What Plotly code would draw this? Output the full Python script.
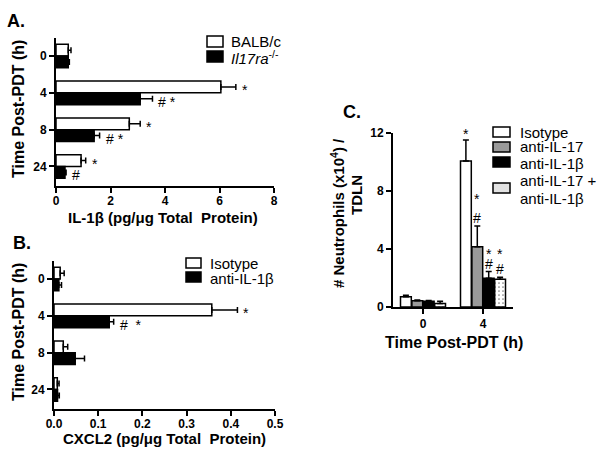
import plotly.graph_objects as go

# ---------------- data ----------------
A_times = ["0", "4", "8", "24"]
A_balbc = [0.45, 6.05, 2.69, 0.92]
A_balbc_err = [0.10, 0.55, 0.40, 0.17]
A_ko = [0.45, 3.09, 1.40, 0.33]
A_ko_err = [0.04, 0.45, 0.20, 0.04]
A_balbc_sig = ["", "*", "*", "*"]
A_ko_sig = ["", "# *", "# *", "#"]

B_times = ["0", "4", "8", "24"]
B_iso = [0.014, 0.357, 0.021, 0.0075]
B_iso_err = [0.009, 0.058, 0.010, 0.004]
B_anti = [0.011, 0.125, 0.048, 0.008]
B_anti_err = [0.006, 0.010, 0.021, 0.004]
B_iso_sig = ["", "*", "", ""]
B_anti_sig = ["", "#  *", "", ""]

C_times = ["0", "4"]
C_iso = [0.71, 10.07]
C_iso_err = [0.10, 1.45]
C_a17 = [0.43, 4.16]
C_a17_err = [0.05, 1.42]
C_a1b = [0.39, 1.98]
C_a1b_err = [0.06, 0.46]
C_both = [0.25, 1.91]
C_both_err = [0.14, 0.14]

A_names = ["BALB/c", "<i>Il17ra</i><sup>-/-</sup>"]
B_names = ["Isotype", "anti-IL-1β"]
C_names = ["Isotype", "anti-IL-17", "anti-IL-1β", "anti-IL-17 +", "anti-IL-1β"]

FONT = "Liberation Sans, Arial, sans-serif"
BLK = "black"
GRAY = "#9a9a9a"

fig = go.Figure()

def hbar(x, err, cats, fill, name, xa, ya, offset, width):
    fig.add_trace(go.Bar(
        x=x, y=cats, orientation="h", name=name, showlegend=False,
        marker=dict(color=fill, line=dict(color=BLK, width=1.5)),
        error_x=dict(type="data", symmetric=False, array=err,
                     arrayminus=[0] * len(err), color=BLK, thickness=1.5, width=3),
        offset=offset, width=width, xaxis=xa, yaxis=ya,
    ))

bw = 0.32
hbar(A_balbc, A_balbc_err, A_times, "white", A_names[0], "x", "y", -bw, bw)
hbar(A_ko, A_ko_err, A_times, BLK, A_names[1], "x", "y", 0, bw)
hbar(B_iso, B_iso_err, B_times, "white", B_names[0], "x2", "y2", -bw, bw)
hbar(B_anti, B_anti_err, B_times, BLK, B_names[1], "x2", "y2", 0, bw)

cw = 0.19
c_series = [
    (C_iso, C_iso_err, "white", None, "Isotype"),
    (C_a17, C_a17_err, GRAY, None, "anti-IL-17"),
    (C_a1b, C_a1b_err, BLK, None, "anti-IL-1β"),
    (C_both, C_both_err, "white", ".", "anti-IL-17 + anti-IL-1β"),
]
for k, (vals, err, fill, pat, nm) in enumerate(c_series):
    marker = dict(color=fill, line=dict(color=BLK, width=1.5))
    if pat:
        marker["pattern"] = dict(shape=".", fgcolor=BLK, bgcolor="white", size=4, solidity=0.15)
    fig.add_trace(go.Bar(
        x=C_times, y=vals, name=nm, marker=marker, showlegend=False,
        error_y=dict(type="data", symmetric=False, array=err,
                     arrayminus=[0] * len(err), color=BLK, thickness=1.5, width=3),
        offset=-2 * cw + k * cw + 0.005, width=cw - 0.01,
        xaxis="x3", yaxis="y3",
    ))

tickfont = dict(family=FONT, size=12, color=BLK, weight="bold")
ax_common = dict(showline=True, linecolor=BLK, linewidth=2, ticks="outside",
                 ticklen=5, tickwidth=2, tickcolor=BLK, showgrid=False,
                 zeroline=False, tickfont=tickfont, fixedrange=True, automargin=False)

fig.update_layout(
    width=600, height=455, margin=dict(l=0, r=0, t=0, b=0, autoexpand=False),
    paper_bgcolor="white", plot_bgcolor="white", showlegend=False,
    barmode="overlay", font=dict(family=FONT, color=BLK),
    xaxis=dict(domain=[56/600, 274/600], anchor="y", range=[0, 8],
               tickvals=[0, 2, 4, 6, 8], ticklabelstandoff=-2, **ax_common),
    yaxis=dict(domain=[1-186/455, 1-38/455], anchor="x", type="category",
               categoryorder="array", categoryarray=A_times,
               range=[3.53, -0.49], **ax_common),
    xaxis2=dict(domain=[54/600, 275/600], anchor="y2", range=[0, 0.5],
                tickvals=[0, 0.1, 0.2, 0.3, 0.4, 0.5], tickformat=".1f",
                ticklabelstandoff=-2, **ax_common),
    yaxis2=dict(domain=[1-409/455, 1-261/455], anchor="x2", type="category",
                categoryorder="array", categoryarray=B_times,
                range=[3.53, -0.49], **ax_common),
    xaxis3=dict(domain=[393/600, 513/600], anchor="y3", type="category",
                categoryorder="array", categoryarray=C_times,
                range=[-0.5, 1.5], **ax_common),
    yaxis3=dict(domain=[1-307/455, 1-133/455], anchor="x3", range=[0, 12],
                tickvals=[0, 4, 8, 12], **ax_common),
)

anns = []
shapes = []

def pa(text, x, y, size=16, angle=0, bold=True, xanchor="center"):
    f = dict(family=FONT, size=size, color=BLK)
    if bold:
        f["weight"] = "bold"
    anns.append(dict(text=text, x=x/600, y=1-y/455, xref="paper", yref="paper",
                     showarrow=False, textangle=angle, xanchor=xanchor, yanchor="middle",
                     font=f))

def box(x0, y0, x1, y1, fill):
    shapes.append(dict(type="rect", xref="paper", yref="paper",
                       x0=x0/600, x1=x1/600, y0=1-y1/455, y1=1-y0/455,
                       fillcolor=fill, line=dict(color=BLK, width=1.5)))

# panel labels and axis titles
pa("A.", 16, 21, 18)
pa("B.", 22, 243, 18)
pa("C.", 352, 112, 18)
pa("Time Post-PDT (h)", 18, 109, 16, -90)
pa("Time Post-PDT (h)", 18, 332, 16, -90)
pa("IL-1β (pg/μg Total  Protein)", 163, 217, 15)
pa("CXCL2 (pg/μg Total  Protein)", 164, 438, 15)
pa("Time Post-PDT (h)", 454, 342, 16)
pa("# Neutrophils (x10<sup>4</sup>) /", 337, 213, 15, -90)
pa("TDLN", 356, 195, 15, -90)

# legends (drawn as swatches + labels)
box(207, 36, 223, 47, "white")
box(207, 51, 223, 62, BLK)
pa(A_names[0], 229, 41, 15, bold=False, xanchor="left")
pa(A_names[1], 229, 57, 15, bold=False, xanchor="left")

box(186, 258, 201, 268, "white")
box(186, 272, 201, 282, BLK)
pa(B_names[0], 208, 263, 15, bold=False, xanchor="left")
pa(B_names[1], 208, 278, 15, bold=False, xanchor="left")

c_fills = ["white", GRAY, BLK, "#e2e2e2"]
c_box_y = [(127, 137), (142, 152), (157, 167), (183, 193)]
c_txt_y = [132, 147, 163, 181, 198]
for k in range(4):
    box(493, c_box_y[k][0], 510, c_box_y[k][1], c_fills[k])
for k in range(5):
    pa(C_names[k], 518, c_txt_y[k], 15, bold=False, xanchor="left")

def star(text, x, y, xref, yref, xanchor="left", xshift=4, yshift=-3):
    if not text:
        return
    anns.append(dict(text=text, x=x, y=y, xref=xref, yref=yref, showarrow=False,
                     xanchor=xanchor, yanchor="middle", xshift=xshift, yshift=yshift,
                     font=dict(family=FONT, size=14, color=BLK)))

for i in range(len(A_times)):
    star(A_balbc_sig[i], A_balbc[i] + A_balbc_err[i], i - bw/2, "x", "y")
    star(A_ko_sig[i], A_ko[i] + A_ko_err[i], i + bw/2, "x", "y")
    star(B_iso_sig[i], B_iso[i] + B_iso_err[i], i - bw/2, "x2", "y2")
    star(B_anti_sig[i], B_anti[i] + B_anti_err[i], i + bw/2, "x2", "y2")

# panel C significance marks for the 4 h group
cx = [1 - 1.5*cw, 1 - 0.5*cw, 1 + 0.5*cw, 1 + 1.5*cw]
star("*", cx[0], C_iso[1] + C_iso_err[1], "x3", "y3", "center", 0, 6)
star("#", cx[1], C_a17[1] + C_a17_err[1], "x3", "y3", "center", 0, 8)
star("*", cx[1], C_a17[1] + C_a17_err[1], "x3", "y3", "center", 0, 27)
star("#", cx[2], C_a1b[1] + C_a1b_err[1], "x3", "y3", "center", 0, 8)
star("*", cx[2], C_a1b[1] + C_a1b_err[1], "x3", "y3", "center", 0, 18)
star("#", cx[3], C_both[1] + C_both_err[1], "x3", "y3", "center", 0, 8)
star("*", cx[3], C_both[1] + C_both_err[1], "x3", "y3", "center", 0, 23)

fig.update_layout(annotations=anns, shapes=shapes)
fig.write_html("out.html", config={"displayModeBar": False},
               post_script="document.body.style.margin='0';document.body.style.overflow='hidden';")
